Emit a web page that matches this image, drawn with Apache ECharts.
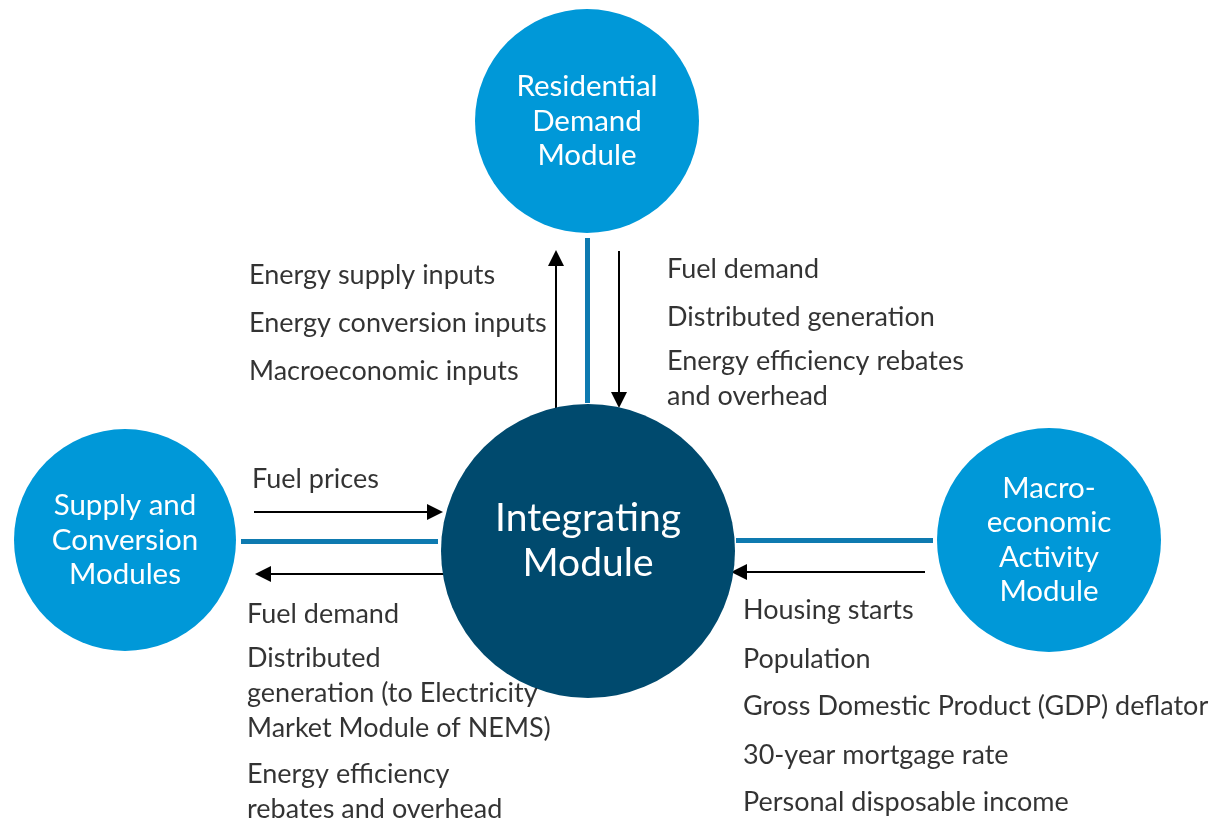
<!DOCTYPE html>
<html>
<head>
<meta charset="utf-8">
<script src="https://cdn.jsdelivr.net/npm/echarts@6/dist/echarts.min.js"></script>
<style>
  html, body { margin: 0; padding: 0; background: #ffffff; }
  #chart { width: 1212px; height: 821px; }
</style>
</head>
<body>
<div id="chart"></div>
<script>
// module bubbles
const moduleNames = [
  'Residential\nDemand\nModule',
  'Integrating\nModule',
  'Supply and\nConversion\nModules',
  'Macro-\neconomic\nActivity\nModule'
]
const moduleCenters = [[587, 121], [588, 551], [125, 540], [1049, 540]]
const moduleRadii = [112, 147, 111, 112]

// text blocks beside the flows
const residentialInputs = ['Energy supply inputs', 'Energy conversion inputs', 'Macroeconomic inputs']
const residentialOutputs = ['Fuel demand', 'Distributed generation', 'Energy efficiency rebates\nand overhead']
const supplyOutputs = ['Fuel prices']
const supplyInputs = ['Fuel demand', 'Distributed\ngeneration (to Electricity\nMarket Module of NEMS)', 'Energy efficiency\nrebates and overhead']
const macroOutputs = ['Housing starts', 'Population', 'Gross Domestic Product (GDP) deflator', '30-year mortgage rate', 'Personal disposable income']

// connectors and arrows: [from, to] (arrow ends sit half a head short of the tip)
const connectors = [
  [[587, 238], [587, 403]],
  [[241, 541], [438, 541]],
  [[736, 540], [933, 540]]
]
const arrows = [
  [[556, 410], [556, 258]],
  [[619, 251], [619, 400]],
  [[254, 512], [435, 512]],
  [[444, 574], [263, 574]],
  [[925, 572], [739, 572]]
]

const light = '#0098d8'
const dark = '#004a6e'
const connectorBlue = '#0e7ab0'
const font = 'Lato, "Open Sans", sans-serif'
const lineH = 35

function block(items, x, y0, gaps) {
  const out = []
  let y = y0
  items.forEach((t, i) => {
    out.push({ value: [x, y - lineH / 2], text: t })
    const n = t.split('\n').length
    y += (n - 1) * lineH + (gaps[i] || 47)
  })
  return out
}

const textData = [].concat(
  block(residentialInputs, 249, 275, [48, 48]),
  block(residentialOutputs, 667, 269, [48, 44]),
  block(supplyOutputs, 252, 479, []),
  block(supplyInputs, 247, 614, [44, 46]),
  block(macroOutputs, 743, 610, [49, 47, 49, 47])
)

const chart = echarts.init(document.getElementById('chart'))
chart.setOption({
  animation: false,
  grid: { left: 0, right: 0, top: 0, bottom: 0 },
  xAxis: { type: 'value', min: 0, max: 1212, show: false },
  yAxis: { type: 'value', min: 0, max: 821, inverse: true, show: false },
  series: [
    {
      type: 'lines',
      coordinateSystem: 'cartesian2d',
      silent: true,
      lineStyle: { color: connectorBlue, width: 5, opacity: 1 },
      data: connectors.map(c => ({ coords: c }))
    },
    {
      type: 'lines',
      coordinateSystem: 'cartesian2d',
      silent: true,
      symbol: ['none', 'triangle'],
      symbolSize: [0, 16],
      lineStyle: { color: '#000000', width: 2, opacity: 1 },
      data: arrows.map(c => ({ coords: c }))
    },
    {
      type: 'scatter',
      silent: true,
      z: 5,
      data: moduleNames.map((n, i) => ({
        name: n,
        value: moduleCenters[i],
        symbolSize: moduleRadii[i] * 2,
        itemStyle: { color: i === 1 ? dark : light, opacity: 1 },
        label: {
          fontSize: i === 1 ? 39 : 29.5,
          lineHeight: i === 1 ? 45 : 34.5,
          offset: i === 1 ? [0, -10] : [0, 0]
        }
      })),
      label: {
        show: true,
        position: 'inside',
        formatter: p => p.name,
        color: '#ffffff',
        fontFamily: font,
        align: 'center',
        verticalAlign: 'middle'
      }
    },
    {
      type: 'scatter',
      silent: true,
      symbolSize: 0,
      z: 6,
      data: textData.map(d => ({ value: d.value, name: d.text })),
      label: {
        show: true,
        position: [0, 0],
        formatter: p => p.name,
        color: '#000000',
        fontFamily: font,
        fontSize: 27,
        lineHeight: lineH,
        align: 'left',
        verticalAlign: 'top'
      }
    }
  ]
})
</script>
</body>
</html>
